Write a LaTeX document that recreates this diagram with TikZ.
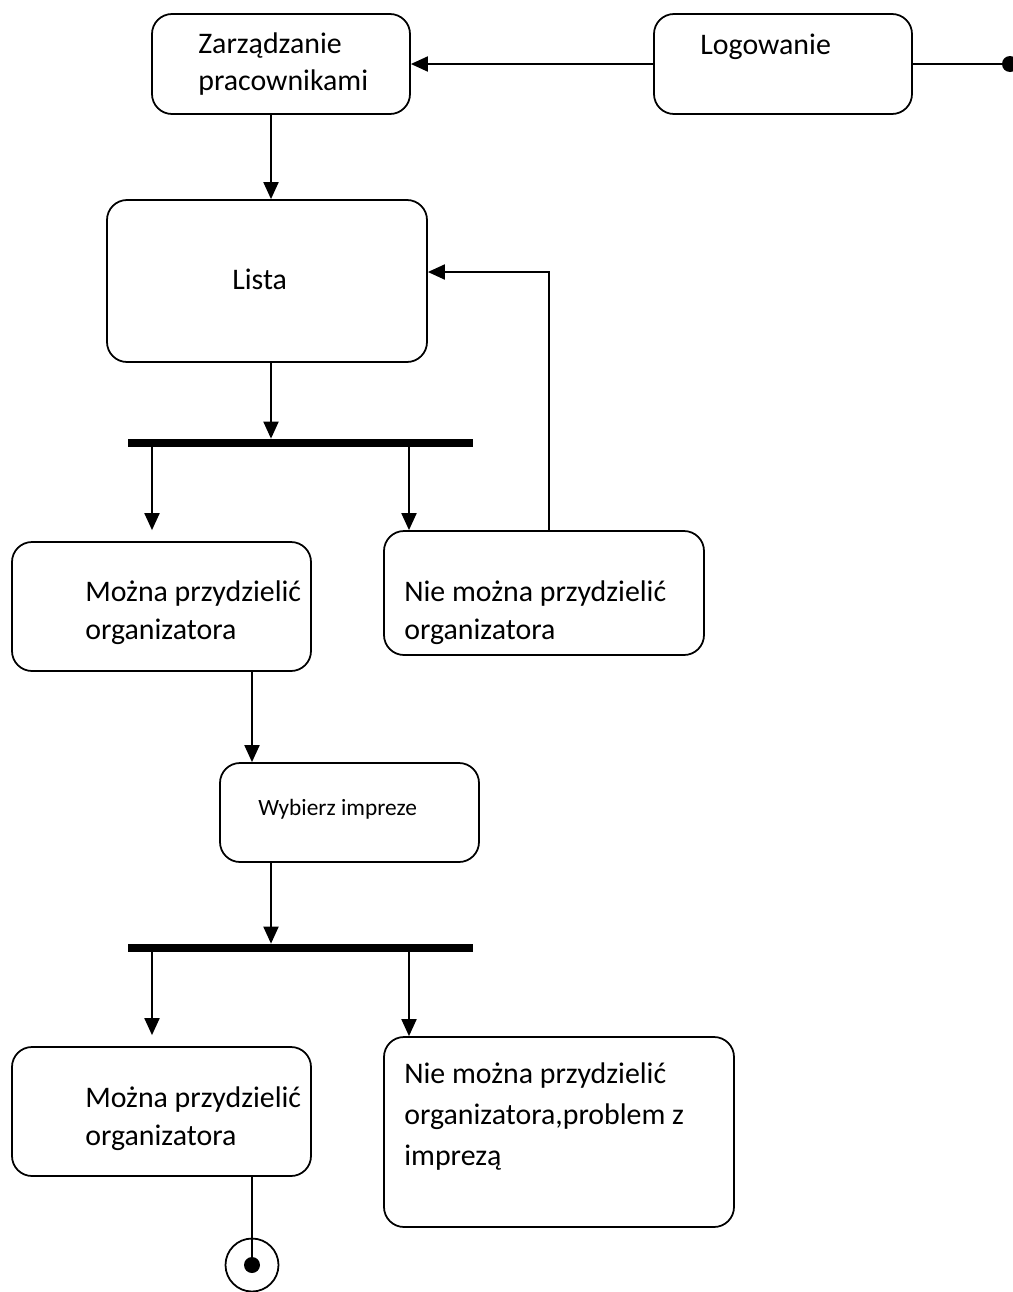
\documentclass[tikz,border=0pt]{standalone}
\usepackage{fontspec}
\setmainfont{Carlito}
\usepackage{tikz}
\usetikzlibrary{positioning}
\usetikzlibrary{arrows.meta}
\usetikzlibrary{fit}

\begin{document}
\begin{tikzpicture}[
    x=0.02cm, y=-0.02cm,
    >={Triangle[length=0.34cm, width=0.3cm]},
    % Define the style for the nodes
    state/.style={draw=black, line width=1pt, rounded corners=0.4cm, inner sep=0pt},
    bar/.style={fill=black, draw=none, inner sep=0pt},
    txt/.style={anchor=base west, align=left, inner sep=0pt, font=\fontsize{17}{21.6}\selectfont},
    dot/.style={circle, fill=black, minimum size=0.32cm, inner sep=0pt},
    ring/.style={circle, draw=black, line width=1pt, minimum size=1.06cm, inner sep=0pt},
    flow/.style={line width=1.1pt}
]
    \useasboundingbox (0,0) rectangle (1012,1292);

    % columns of the connectors
    \coordinate (c1) at (271,0);
    \coordinate (cL) at (152,0);
    \coordinate (cR) at (409,0);
    \coordinate (cM) at (252,0);
    \coordinate (cB) at (549,0);

    % top row
    \node[state, fit={(152,14) (410,114)}] (zarz) {};
    \node[txt, font=\fontsize{17}{21}\selectfont] (zarz-t) at (198,90) {Zarządzanie\\pracownikami};
    \node[state, fit={(654,14) (912,114)}] (logo) {};
    \node[txt] (logo-t) at (700,54) {Logowanie};
    \node[dot] (init) at (logo.east -| 1010,0) {};

    % list
    \node[state, fit={(107,200) (427,362)}] (lista) {};
    \node[txt] (lista-t) at (232,289) {Lista};
    \node[bar, fit={(128,439) (473,447)}] (bar1) {};

    % first choice
    \node[state, fit={(12,542) (311,671)}] (moz1) {};
    \node[txt] (moz1-t) at (85,639) {Można przydzielić\\organizatora};
    \node[state, fit={(384,531) (704,655)}] (nie1) {};
    \node[txt] (nie1-t) at (404,639) {Nie można przydzielić\\organizatora};

    % event
    \node[state, fit={(220,763) (479,862)}] (wyb) {};
    \node[txt, font=\fontsize{13.3}{16}\selectfont] (wyb-t) at (258,815) {Wybierz impreze};
    \node[bar, fit={(128,944) (473,952)}] (bar2) {};

    % second choice
    \node[state, fit={(12,1047) (311,1176)}] (moz2) {};
    \node[txt] (moz2-t) at (85,1145) {Można przydzielić\\organizatora};
    \node[state, fit={(384,1037) (734,1227)}] (nie2) {};
    \node[txt, font=\fontsize{17}{23.2}\selectfont] (nie2-t) at (404,1165) {Nie można przydzielić\\organizatora,problem z\\imprezą};

    % end
    \node[ring] (fin) at (252,1265) {};
    \node[dot] (fin-d) at (fin.center) {};

    % connectors
    \draw[flow] (init.center) -- (logo.east);
    \draw[flow, ->] (logo.west) -- (zarz.east);
    \draw[flow, ->] (zarz.south -| c1) -- (lista.north -| c1);
    \draw[flow, ->] (lista.south -| c1) -- (bar1.north -| c1);
    \draw[flow, ->, shorten >=0.22cm] (bar1.south -| cL) -- (moz1.north -| cL);
    \draw[flow, ->] (bar1.south -| cR) -- (nie1.north -| cR);
    \draw[flow, ->] (nie1.north -| cB) |- ([yshift=0.18cm]lista.east);
    \draw[flow, ->] (moz1.south -| cM) -- (wyb.north -| cM);
    \draw[flow, ->] (wyb.south -| c1) -- (bar2.north -| c1);
    \draw[flow, ->, shorten >=0.22cm] (bar2.south -| cL) -- (moz2.north -| cL);
    \draw[flow, ->] (bar2.south -| cR) -- (nie2.north -| cR);
    \draw[flow] (moz2.south -| cM) -- (fin-d.center);

\end{tikzpicture}
\end{document}
